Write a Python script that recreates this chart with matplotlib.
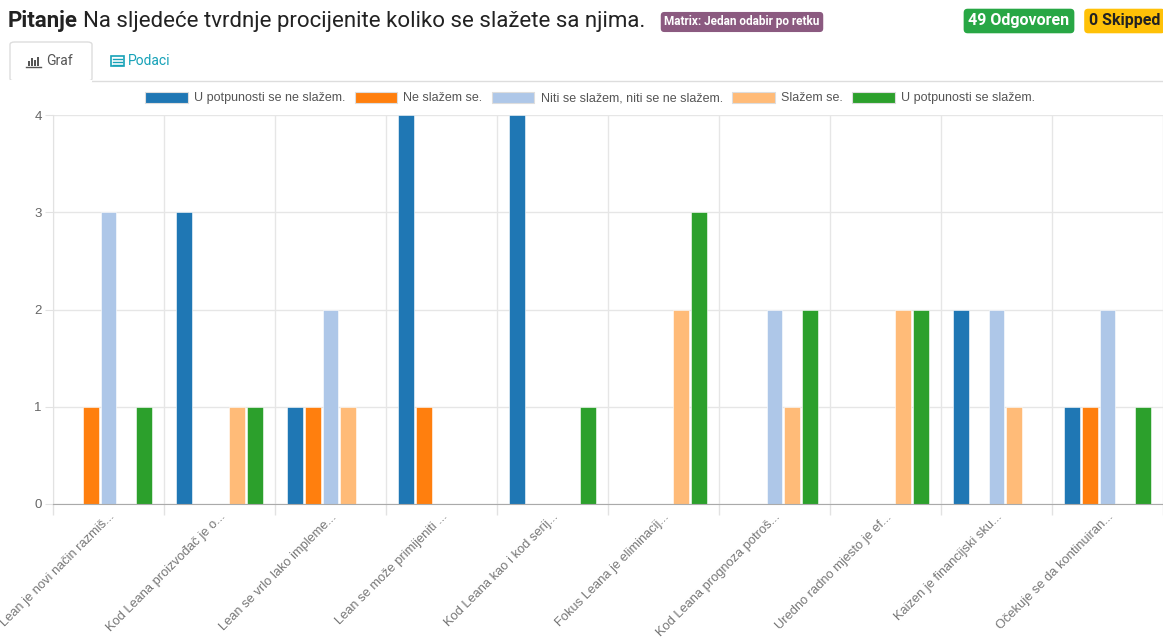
import matplotlib.pyplot as plt
import matplotlib.patches as mpatches
import numpy as np

plt.rcParams['font.family'] = ['Liberation Sans', 'DejaVu Sans']

categories = ["Lean je novi način razmiš...", "Kod Leana proizvođač je o...",
              "Lean se vrlo lako impleme...", "Lean se može primijeniti ...",
              "Kod Leana kao i kod serij...", "Fokus Leana je eliminacij...",
              "Kod Leana prognoza potroš...", "Uredno radno mjesto je ef...",
              "Kaizen je financijski sku...", "Očekuje se da kontinuiran..."]
series_names = ["U potpunosti se ne slažem.", "Ne slažem se.",
                "Niti se slažem, niti se ne slažem.", "Slažem se.",
                "U potpunosti se slažem."]
v_ne_u_potp = [0, 3, 1, 4, 4, 0, 0, 0, 2, 1]
v_ne_slazem = [1, 0, 1, 1, 0, 0, 0, 0, 0, 1]
v_niti = [3, 0, 2, 0, 0, 0, 2, 0, 2, 2]
v_slazem = [0, 1, 1, 0, 0, 2, 1, 2, 1, 0]
v_u_potp = [1, 1, 0, 0, 1, 3, 2, 2, 0, 1]
colors = ['#1f77b4', '#ff7f0e', '#aec7e8', '#ffbb78', '#2ca02c']

W, H = 1163, 638
fig = plt.figure(figsize=(W / 100, H / 100), dpi=100)

def fx(px):
    return px / W

def fy(py):
    return 1 - py / H

ax = fig.add_axes([fx(53), fy(504), fx(1163) - fx(53), fy(115) - fy(504)])

x = np.arange(len(categories))
slot = 0.1595
bw = 0.144
all_vals = [v_ne_u_potp, v_ne_slazem, v_niti, v_slazem, v_u_potp]
handles = []
for i, vals in enumerate(all_vals):
    ax.bar(x + (i - 2) * slot, vals, width=bw, color=colors[i],
           edgecolor='white', linewidth=0.4, label=series_names[i], zorder=3)
    handles.append(mpatches.Patch(facecolor=colors[i], edgecolor='#dddddd',
                                  linewidth=0.8, label=series_names[i]))

ax.set_xlim(-0.5, 9.5)
ax.set_ylim(0, 4)
ax.set_yticks([0, 1, 2, 3, 4])
ax.set_xticks(x)
ax.set_xticklabels(categories, rotation=45, ha='right', va='top',
                   rotation_mode='anchor', color='#777777', fontsize=9.3)
ax.set_xticks(np.arange(-0.5, 10, 1), minor=True)
ax.tick_params(axis='x', which='major', length=0, pad=5)
ax.tick_params(axis='x', which='minor', length=8, color='#e2e2e2', width=1)
ax.tick_params(axis='y', length=6, color='#e2e2e2', labelcolor='#666666',
               labelsize=9.5, pad=2)
ax.grid(axis='y', color='#e6e6e6', linewidth=1, zorder=0)
ax.grid(axis='x', which='minor', color='#e6e6e6', linewidth=1, zorder=0)
for s in ['top', 'right']:
    ax.spines[s].set_visible(False)
ax.spines['left'].set_color('#e2e2e2')
ax.spines['bottom'].set_color('#aaaaaa')
ax.spines['bottom'].set_zorder(4)

fig.legend(handles=handles, loc='center', bbox_to_anchor=(fx(590), fy(98)),
           ncol=5, frameon=False, fontsize=9, handlelength=3.4,
           handleheight=1.0, handletextpad=0.5, columnspacing=0.75,
           labelcolor='#555555')

# header: bold "Pitanje" followed by the rest of the question
renderer = fig.canvas.get_renderer()
t1 = fig.text(fx(8), fy(21), "Pitanje", fontsize=16, fontweight='bold',
              family='Roboto', color='#222222', va='center')
ext = t1.get_window_extent(renderer)
fig.text(ext.x1 / W + fx(5), fy(21),
         "Na sljedeće tvrdnje procijenite koliko se slažete sa njima.",
         fontsize=16, family='Roboto', color='#222222', va='center')
fig.text(fx(742), fy(22), "Matrix: Jedan odabir po retku", fontsize=8.5,
         fontweight='bold', family='Roboto', color='white', ha='center', va='center',
         bbox=dict(boxstyle='round,pad=0.3,rounding_size=0.3', fc='#8b5a80', ec='none'))
fig.text(fx(1019), fy(21), "49 Odgovoren", fontsize=11.5, fontweight='bold',
         family='Roboto', color='white', ha='center', va='center',
         bbox=dict(boxstyle='round,pad=0.3,rounding_size=0.25', fc='#28a745', ec='none'))
fig.text(fx(1089), fy(21), "0 Skipped", fontsize=11.5, fontweight='bold',
         family='Roboto', color='#222222', ha='left', va='center',
         bbox=dict(boxstyle='round,pad=0.3,rounding_size=0.25', fc='#ffc107', ec='none'))

# tabs
fig.add_artist(plt.Line2D([fx(92), fx(1163)], [fy(81), fy(81)], color='#dddddd', lw=1))
tab = mpatches.FancyBboxPatch((fx(10), fy(81)), fx(92) - fx(10), fy(42) - fy(81),
                              boxstyle='round,pad=0,rounding_size=0.004',
                              fc='white', ec='#dddddd', lw=1, transform=fig.transFigure)
fig.add_artist(tab)
fig.add_artist(plt.Line2D([fx(11), fx(91)], [fy(81), fy(81)], color='white', lw=1.5))
# bar-chart icon
for bx, bh in [(28, 5), (31, 8), (34, 6), (37, 9)]:
    fig.add_artist(mpatches.Rectangle((fx(bx), fy(66)), fx(2), bh / H,
                                      fc='#555555', ec='none', transform=fig.transFigure))
fig.add_artist(plt.Line2D([fx(26), fx(41)], [fy(66.5), fy(66.5)], color='#555555', lw=1))
fig.text(fx(46), fy(61), "Graf", fontsize=10, family='Roboto', color='#555555', va='center')
# table icon
fig.add_artist(mpatches.Rectangle((fx(111), fy(66)), fx(13), 10 / H, fc='none',
                                  ec='#17a2b8', lw=1.2, transform=fig.transFigure))
for ly in [59, 62, 64.5]:
    fig.add_artist(plt.Line2D([fx(113), fx(122)], [fy(ly), fy(ly)], color='#17a2b8', lw=1))
fig.text(fx(128), fy(61), "Podaci", fontsize=10, family='Roboto', color='#17a2b8',
         va='center')

fig.savefig('out.png', dpi=100)
